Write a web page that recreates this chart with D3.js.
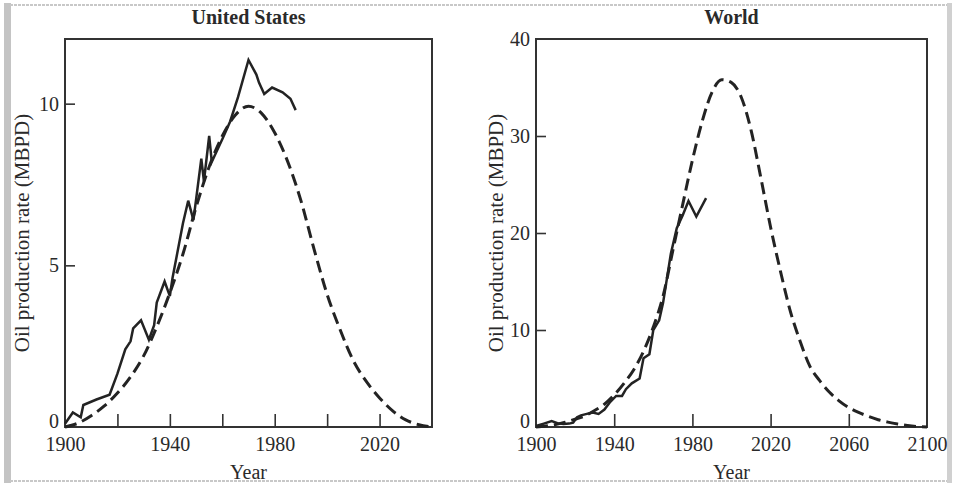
<!DOCTYPE html>
<html>
<head>
<meta charset="utf-8">
<script src="https://cdn.jsdelivr.net/npm/d3@7"></script>
<style>
  html, body { margin: 0; padding: 0; background: #fff; }
  svg { display: block; }
  text { font-family: "Liberation Serif", "Times New Roman", serif; fill: #2a2a2a; }
</style>
</head>
<body>
<svg id="chart" width="954" height="485"></svg>
<script>
// ---------- DATA ----------
const usYears   = [1900, 1903, 1906, 1907, 1912, 1917, 1920, 1923, 1925, 1926, 1929, 1932, 1934, 1935, 1938, 1940, 1941, 1945, 1947, 1949, 1952, 1953, 1955, 1956, 1958, 1960, 1963, 1966, 1970, 1973, 1974, 1976, 1979, 1983, 1986, 1988];
const usActual  = [0.1, 0.45, 0.3, 0.68, 0.85, 1.0, 1.65, 2.4, 2.65, 3.05, 3.3, 2.7, 3.15, 3.85, 4.5, 4.05, 4.6, 6.3, 7.0, 6.4, 8.3, 7.6, 9.0, 8.2, 8.55, 8.9, 9.45, 10.2, 11.35, 10.9, 10.65, 10.3, 10.5, 10.35, 10.15, 9.8];

const usFitYears = [1900, 1905, 1910, 1915, 1920, 1925, 1930, 1935, 1940, 1945, 1950, 1955, 1960, 1965, 1970, 1975, 1980, 1985, 1990, 1995, 2000, 2005, 2010, 2015, 2020, 2025, 2030, 2035, 2040];
const usFit      = [0, 0.12, 0.35, 0.65, 1.05, 1.55, 2.2, 3.1, 4.15, 5.35, 6.8, 8.05, 9.0, 9.65, 9.92, 9.7, 9.1, 8.2, 7.0, 5.5, 4.1, 3.0, 2.05, 1.4, 0.9, 0.5, 0.22, 0.07, 0];

const worldYears  = [1900, 1904, 1908, 1911, 1914, 1917, 1919, 1921, 1923, 1926, 1929, 1932, 1935, 1938, 1941, 1944, 1946, 1949, 1953, 1955, 1958, 1960, 1963, 1965, 1969, 1972, 1975, 1978, 1982, 1987];
const worldActual = [0.1, 0.35, 0.6, 0.4, 0.3, 0.35, 0.45, 1.0, 1.2, 1.35, 1.5, 1.35, 1.8, 2.6, 3.2, 3.2, 3.9, 4.5, 5.0, 7.1, 7.5, 10.0, 11.0, 12.8, 17.9, 20.5, 21.8, 23.3, 21.7, 23.6];

const worldFitYears = [1900, 1905, 1910, 1915, 1920, 1925, 1930, 1935, 1940, 1945, 1950, 1955, 1960, 1965, 1970, 1975, 1980, 1985, 1990, 1995, 2000, 2005, 2010, 2015, 2020, 2025, 2030, 2035, 2040, 2045, 2050, 2055, 2060, 2065, 2070, 2075, 2080, 2085, 2090, 2095, 2100];
const worldFit      = [0, 0.1, 0.25, 0.5, 0.8, 1.15, 1.7, 2.35, 3.3, 4.5, 5.9, 7.8, 10.3, 13.5, 18.2, 22.9, 27.5, 31.5, 34.5, 35.8, 35.5, 34.0, 30.6, 25.7, 20.6, 16.1, 12.0, 8.9, 6.3, 4.8, 3.6, 2.7, 2.0, 1.5, 1.1, 0.75, 0.5, 0.3, 0.15, 0.05, 0];

const usTickYears    = [1920, 1940, 1960, 1980, 2000, 2020];
const usLabelYears   = [1900, 1940, 1980, 2020];
const usYTicks       = [5, 10];
const usYLabels      = [0, 5, 10];
const worldTickYears = [1940, 1980, 2020, 2060];
const worldLabelYears= [1900, 1940, 1980, 2020, 2060, 2100];
const worldYTicks    = [10, 20, 30];
const worldYLabels   = [0, 10, 20, 30, 40];

const titles = ["United States", "World"];
const xTitle = "Year";
const yTitle = "Oil production rate (MBPD)";

// ---------- DRAW ----------
const svg = d3.select("#chart");
const ink = "#232323";

// scanned-page border
svg.append("rect").attr("x", 4).attr("y", 3).attr("width", 7).attr("height", 480).attr("fill", "#c4c4c4");
svg.append("line").attr("x1", 10).attr("x2", 952).attr("y1", 5).attr("y2", 5).attr("stroke", "#c8c8c8").attr("stroke-width", 2).attr("stroke-dasharray", "3,1");
svg.append("line").attr("x1", 10).attr("x2", 952).attr("y1", 481).attr("y2", 481).attr("stroke", "#c8c8c8").attr("stroke-width", 2).attr("stroke-dasharray", "3,1");
svg.append("rect").attr("x", 947).attr("y", 3).attr("width", 5).attr("height", 480).attr("fill", "#d0d0d0");

function panel(cfg) {
  const x = d3.scaleLinear().domain(cfg.xDomain).range([cfg.left, cfg.right]);
  const y = d3.scaleLinear().domain(cfg.yDomain).range([cfg.bottom, cfg.top]);
  const g = svg.append("g");

  // frame
  g.append("rect")
    .attr("x", cfg.left).attr("y", cfg.top)
    .attr("width", cfg.right - cfg.left).attr("height", cfg.bottom - cfg.top)
    .attr("fill", "none").attr("stroke", "#333").attr("stroke-width", 2);

  // x tick marks (pointing up, inside)
  const xTicks = g.append("g").attr("transform", `translate(0,${cfg.bottom})`)
    .call(d3.axisBottom(x).tickValues(cfg.xTicks).tickSize(-13).tickFormat(""));
  xTicks.select(".domain").remove();
  xTicks.selectAll("line").attr("stroke", "#333").attr("stroke-width", 1.6);

  // x labels
  const xLab = g.append("g").attr("transform", `translate(0,${cfg.bottom})`)
    .call(d3.axisBottom(x).tickValues(cfg.xLabels).tickSize(0).tickPadding(10).tickFormat(d3.format("d")));
  xLab.select(".domain").remove();
  xLab.selectAll("text").attr("font-size", 20).attr("fill", ink)
    .attr("font-family", '"Liberation Serif", serif');

  // y tick marks (pointing right, inside)
  const yTicks = g.append("g").attr("transform", `translate(${cfg.left},0)`)
    .call(d3.axisLeft(y).tickValues(cfg.yTicks).tickSize(-10).tickFormat(""));
  yTicks.select(".domain").remove();
  yTicks.selectAll("line").attr("stroke", "#333").attr("stroke-width", 1.6);

  // y labels
  const yLab = g.append("g").attr("transform", `translate(${cfg.left},0)`)
    .call(d3.axisLeft(y).tickValues(cfg.yLabels).tickSize(0).tickPadding(6).tickFormat(d3.format("d")));
  yLab.select(".domain").remove();
  yLab.selectAll("text").attr("font-size", 20).attr("fill", ink)
    .attr("font-family", '"Liberation Serif", serif');
  yLab.selectAll(".tick").filter(d => d === 0).select("text").attr("dy", "0.04em");

  const line = d3.line().x(d => x(d[0])).y(d => y(d[1]));
  const smooth = d3.line().x(d => x(d[0])).y(d => y(d[1])).curve(d3.curveMonotoneX);

  // fitted (dashed)
  g.append("path")
    .datum(d3.zip(cfg.fitYears, cfg.fitVals))
    .attr("d", smooth)
    .attr("fill", "none").attr("stroke", ink).attr("stroke-width", 3)
    .attr("stroke-dasharray", "12,6");

  // actual (solid)
  g.append("path")
    .datum(d3.zip(cfg.actYears, cfg.actVals))
    .attr("d", line)
    .attr("fill", "none").attr("stroke", ink).attr("stroke-width", 2.5)
    .attr("stroke-linejoin", "miter");

  const cx = (cfg.left + cfg.right) / 2;
  // title
  g.append("text").attr("x", cx).attr("y", 24).attr("text-anchor", "middle")
    .attr("font-size", 20).attr("font-weight", "bold").text(cfg.title);
  // x title
  g.append("text").attr("x", cx).attr("y", 479).attr("text-anchor", "middle")
    .attr("font-size", 20).text(xTitle);
  // y title
  g.append("text")
    .attr("transform", `translate(${cfg.yTitleX},${(cfg.top + cfg.bottom) / 2}) rotate(-90)`)
    .attr("text-anchor", "middle").attr("dominant-baseline", "central")
    .attr("font-size", 21).text(yTitle);
}

panel({
  title: titles[0], left: 65, right: 432, top: 39, bottom: 427,
  xDomain: [1900, 2040], yDomain: [0, 12],
  xTicks: usTickYears, xLabels: usLabelYears, yTicks: usYTicks, yLabels: usYLabels,
  actYears: usYears, actVals: usActual, fitYears: usFitYears, fitVals: usFit,
  yTitleX: 22
});

panel({
  title: titles[1], left: 536, right: 927, top: 39, bottom: 427,
  xDomain: [1900, 2100], yDomain: [0, 40],
  xTicks: worldTickYears, xLabels: worldLabelYears, yTicks: worldYTicks, yLabels: worldYLabels,
  actYears: worldYears, actVals: worldActual, fitYears: worldFitYears, fitVals: worldFit,
  yTitleX: 496
});
</script>
</body>
</html>
